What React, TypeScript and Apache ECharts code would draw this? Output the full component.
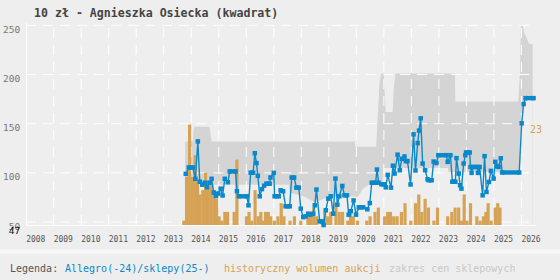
import React, { useEffect, useRef } from 'react';
import * as echarts from 'echarts';

const chartTitle = '10 zł - Agnieszka Osiecka (kwadrat)';
const legendLabel = 'Legenda:';
const legendAllegro = 'Allegro(-24)/sklepy(25-)';
const legendVolume = 'historyczny wolumen aukcji';
const legendShops = 'zakres cen sklepowych';

const yTicks = [50, 100, 150, 200, 250];
const yGrid = [50, 100, 150, 200, 250];
const years = [2008, 2009, 2010, 2011, 2012, 2013, 2014, 2015, 2016, 2017, 2018, 2019, 2020, 2021, 2022, 2023, 2024, 2025, 2026];
const volumeMarker = 23;

// blue line: Allegro / shop prices
const allegro: [number, number][] = [
  [2013.80, 99], [2013.91, 105.5], [2014.06, 105.5], [2014.15, 94], [2014.24, 132], [2014.31, 91],
  [2014.40, 88], [2014.49, 90], [2014.57, 85.5], [2014.66, 90], [2014.74, 94], [2014.82, 80],
  [2014.90, 76.5], [2014.98, 79], [2015.07, 84], [2015.14, 77], [2015.22, 94], [2015.33, 90.5],
  [2015.40, 101.5], [2015.61, 101.5], [2015.66, 81.3], [2015.73, 76.2], [2016.02, 76.2], [2016.08, 67],
  [2016.16, 100.2], [2016.25, 100.2], [2016.31, 120], [2016.37, 110], [2016.42, 97], [2016.49, 76.2],
  [2016.57, 83.5], [2016.65, 87], [2016.73, 89], [2016.85, 89], [2016.88, 95.3], [2017.00, 100],
  [2017.03, 76.2], [2017.18, 76.2], [2017.25, 82.3], [2017.34, 81.3], [2017.43, 66], [2017.58, 66],
  [2017.65, 95.3], [2017.74, 95.3], [2017.82, 85], [2017.91, 85], [2017.98, 63.6], [2018.07, 55],
  [2018.16, 55.8], [2018.25, 58.5], [2018.33, 57.5], [2018.43, 58.5], [2018.49, 67], [2018.55, 83],
  [2018.67, 50.7], [2018.76, 50.7], [2018.81, 47], [2018.89, 62], [2018.98, 73.8], [2019.07, 76.2],
  [2019.16, 58.5], [2019.24, 94.2], [2019.31, 67.7], [2019.38, 76.2], [2019.49, 86.7], [2019.57, 77.2],
  [2019.66, 77.2], [2019.72, 57.5], [2019.80, 61], [2019.90, 72], [2019.99, 57.5], [2020.09, 65],
  [2020.25, 65], [2020.40, 63], [2020.49, 69.3], [2020.56, 90], [2020.70, 90], [2020.75, 103.4],
  [2020.81, 90], [2020.91, 88.4], [2021.02, 88.4], [2021.07, 85.3], [2021.14, 98], [2021.26, 85],
  [2021.33, 107.3], [2021.39, 99.3], [2021.50, 118.5], [2021.58, 102.7], [2021.65, 114.3], [2021.75, 116.7],
  [2021.80, 112], [2021.86, 112], [2021.97, 88.2], [2022.08, 139.2], [2022.15, 102.5], [2022.23, 130.3],
  [2022.28, 143], [2022.34, 155.5], [2022.41, 109.5], [2022.50, 102.7], [2022.59, 93.5], [2022.63, 92.5],
  [2022.74, 92.5], [2022.81, 111.5], [2022.91, 110], [2022.98, 118], [2023.27, 118], [2023.32, 111.2],
  [2023.42, 118], [2023.49, 91], [2023.60, 91], [2023.64, 115], [2023.72, 99.3], [2023.77, 87.4],
  [2023.82, 84], [2023.90, 109.5], [2023.96, 118], [2023.99, 120.8], [2024.12, 120.8], [2024.15, 106],
  [2024.19, 100], [2024.24, 106], [2024.40, 106], [2024.42, 100], [2024.48, 106], [2024.59, 77.2],
  [2024.66, 117], [2024.73, 80.6], [2024.82, 90.8], [2024.89, 102], [2024.99, 94.2], [2025.05, 111.2],
  [2025.12, 106.8], [2025.17, 106], [2025.25, 114.8], [2025.30, 100.4], [2025.92, 100.4], [2026.01, 150.4],
  [2026.08, 170], [2026.15, 176], [2026.44, 176],
];

// orange bars: auction volume
const volume: [number, number][] = [
  [2013.73, 1], [2013.83, 11], [2013.94, 23], [2014.04, 11], [2014.14, 16], [2014.23, 10], [2014.32, 7],
  [2014.42, 8], [2014.52, 12], [2014.62, 9], [2014.72, 10], [2014.82, 8], [2014.92, 6], [2015.01, 2],
  [2015.11, 1], [2015.22, 3], [2015.32, 3], [2015.56, 3], [2015.66, 15], [2016.01, 2], [2016.10, 3],
  [2016.20, 1], [2016.32, 8], [2016.43, 2], [2016.53, 3], [2016.61, 1], [2016.70, 3], [2016.80, 3],
  [2016.89, 2], [2017.02, 1], [2017.15, 2], [2017.27, 5], [2017.37, 2], [2017.59, 1], [2017.75, 2],
  [2017.98, 1], [2018.24, 2], [2018.33, 3], [2018.45, 4], [2018.56, 2], [2018.76, 1], [2018.85, 3],
  [2018.96, 2], [2019.07, 3], [2019.26, 5], [2019.38, 3], [2019.50, 3], [2019.69, 1], [2019.79, 3],
  [2019.89, 2], [2020.04, 1], [2020.38, 1], [2020.50, 2], [2020.68, 3], [2020.80, 4], [2021.03, 2],
  [2021.14, 3], [2021.24, 3], [2021.36, 2], [2021.48, 2], [2021.64, 3], [2021.77, 5], [2021.98, 1],
  [2022.15, 5], [2022.27, 7], [2022.38, 3], [2022.50, 6], [2022.62, 4], [2022.82, 1], [2022.95, 4],
  [2023.32, 2], [2023.47, 3], [2023.59, 4], [2023.72, 4], [2023.82, 1], [2023.92, 7], [2024.02, 1],
  [2024.15, 5], [2024.38, 2], [2024.50, 1], [2024.62, 2], [2024.71, 3], [2024.79, 5], [2024.90, 1],
  [2025.05, 4], [2025.14, 5], [2025.22, 4],
];

// grey band: shop price range
const shopHigh: [number, number][] = [
  [2013.78, 132], [2014.06, 132], [2014.08, 143], [2014.11, 147], [2014.66, 147], [2014.70, 140],
  [2014.74, 132], [2019.94, 132], [2019.96, 126.5], [2020.72, 126.5], [2020.74, 137], [2020.84, 191],
  [2020.90, 201], [2021.00, 201], [2021.03, 183], [2021.07, 162], [2021.32, 162], [2021.36, 185],
  [2021.42, 201], [2023.58, 201], [2023.60, 172.5], [2025.88, 172.5], [2025.91, 184], [2025.95, 205],
  [2025.98, 251.5], [2026.05, 249], [2026.11, 242], [2026.19, 237], [2026.28, 231], [2026.41, 231],
];
const shopLow: [number, number][] = [
  [2013.78, 92], [2014.74, 88], [2017.55, 88], [2017.58, 80], [2018.10, 76], [2018.50, 70],
  [2019.00, 76], [2019.95, 76], [2020.05, 75.5], [2020.25, 84], [2020.50, 89], [2020.96, 89],
  [2020.99, 105], [2023.32, 105], [2023.35, 101], [2025.92, 101], [2026.01, 150], [2026.08, 170],
  [2026.15, 176], [2026.41, 176],
];

const BG = '#eeeeee';
const BLUE = '#0a88c9';
const ORANGE = '#d6a356';
const GRAY = '#d4d4d4';
const MONO = '"DejaVu Sans Mono", monospace';
const X_MIN = 2008;
const X_MAX = 2026.53;
const Y_MIN = 47;
const Y_MAX = 252;

export default function App() {
  const ref = useRef<HTMLDivElement>(null);
  useEffect(() => {
    if (!ref.current) return;
    const chart = echarts.init(ref.current, undefined, { renderer: 'svg' });

    const flats: [number, number, number][] = [];
    for (let i = 0; i < allegro.length - 1; i++) {
      if (allegro[i][1] === allegro[i + 1][1]) flats.push([allegro[i][0], allegro[i + 1][0], allegro[i][1]]);
    }
    const gridItems: [number, number][] = [
      ...yGrid.map((v) => [0, v] as [number, number]),
      ...years.slice(1).map((v) => [1, v] as [number, number]),
    ];

    const option: any = {
      animation: false,
      backgroundColor: BG,
      grid: { left: 26, right: 24, top: 23.4, bottom: 55, containLabel: false },
      xAxis: [{
        type: 'value', min: X_MIN, max: X_MAX, interval: 1,
        axisLine: { show: true, lineStyle: { color: '#ffffff', width: 1 } },
        axisTick: { show: false },
        splitLine: { show: false },
        axisLabel: {
          showMaxLabel: false, align: 'left', margin: 10,
          fontFamily: MONO, fontSize: 8, color: '#555',
          formatter: (v: number) => String(Math.round(v)),
        },
      }],
      yAxis: [
        {
          type: 'value', min: Y_MIN, max: Y_MAX,
          axisLine: { show: true, lineStyle: { color: '#ffffff', width: 1 } },
          axisTick: { show: false },
          splitLine: { show: false },
          axisLabel: {
            customValues: yTicks, margin: 6, verticalAlign: 'top', lineHeight: 8,
            fontFamily: MONO, fontSize: 9.5, color: '#777',
          },
        },
        {
          type: 'value', min: 0, max: 46.2, interval: volumeMarker, position: 'right', z: 20,
          axisLine: { show: false }, axisTick: { show: false }, splitLine: { show: false },
          axisLabel: {
            margin: -6, verticalAlign: 'top', lineHeight: 9, fontFamily: MONO, fontSize: 10, color: ORANGE,
            formatter: (v: number) => (v === volumeMarker ? String(v) : ''),
          },
        },
      ],
      series: [
        {
          type: 'line', data: shopHigh, symbol: 'none', silent: true, z: 1,
          lineStyle: { width: 0, opacity: 0 }, areaStyle: { color: GRAY, opacity: 1 },
        },
        {
          type: 'line', data: shopLow, symbol: 'none', silent: true, z: 2,
          lineStyle: { width: 0, opacity: 0 }, areaStyle: { color: BG, opacity: 1 },
        },
        {
          type: 'custom', data: gridItems, z: 3, silent: true, clip: false,
          encode: { x: 1, y: 1 },
          renderItem: (params: any, api: any) => {
            const kind = api.value(0);
            const v = api.value(1);
            let a, b;
            if (kind === 0) {
              a = api.coord([X_MIN, v]);
              b = api.coord([X_MAX, v]);
            } else {
              a = api.coord([v, Y_MIN]);
              b = api.coord([v, Y_MAX]);
            }
            return {
              type: 'line',
              shape: { x1: a[0], y1: a[1], x2: b[0], y2: b[1] },
              style: { stroke: '#ffffff', lineWidth: 1, lineDash: [10, 7] },
            };
          },
        },
        {
          // minimum value label on the y axis
          type: 'custom', data: [[X_MIN, Y_MIN]], z: 30, silent: true, clip: false,
          renderItem: (params: any, api: any) => {
            const p = api.coord([api.value(0), api.value(1)]);
            return {
              type: 'text', x: p[0] - 6, y: p[1] + 5,
              style: { text: String(api.value(1)), fontFamily: MONO, fontSize: 9.5, fill: '#111', align: 'right', verticalAlign: 'middle' },
            };
          },
        },
        {
          type: 'custom', data: volume, yAxisIndex: 1, z: 4, silent: true,
          encode: { x: 0, y: 1 },
          renderItem: (params: any, api: any) => {
            const top = api.coord([api.value(0), api.value(1)]);
            const base = api.coord([api.value(0), 0]);
            return {
              type: 'rect',
              shape: { x: top[0] - 1.6, y: top[1], width: 3.2, height: base[1] - top[1] },
              style: { fill: ORANGE },
            };
          },
        },
        {
          type: 'custom', data: flats, z: 6, silent: true,
          encode: { x: [0, 1], y: 2 },
          renderItem: (params: any, api: any) => {
            const p1 = api.coord([api.value(0), api.value(2)]);
            const p2 = api.coord([api.value(1), api.value(2)]);
            return {
              type: 'rect',
              shape: { x: p1[0], y: p1[1] - 2.2, width: p2[0] - p1[0], height: 4.4 },
              style: { fill: BLUE },
            };
          },
        },
        {
          type: 'line', data: allegro, z: 7, silent: true,
          symbol: 'rect', symbolSize: 4.5, showAllSymbol: true,
          lineStyle: { color: BLUE, width: 1.4 }, itemStyle: { color: BLUE },
        },
      ],
      graphic: [
        { type: 'rect', shape: { x: 0, y: 249.5, width: 560, height: 4 }, style: { fill: '#f8f8f8' }, silent: true },
        {
          type: 'text', x: 34, y: 12.7,
          style: { text: chartTitle, fontFamily: MONO, fontSize: 11.6, fontWeight: 'bold', fill: '#444', verticalAlign: 'middle' },
        },
        { type: 'text', x: 10, y: 268, style: { text: legendLabel, fontFamily: MONO, fontSize: 10, fill: '#555', verticalAlign: 'middle' } },
        { type: 'text', x: 65, y: 268, style: { text: legendAllegro, fontFamily: MONO, fontSize: 10, fill: BLUE, verticalAlign: 'middle' } },
        { type: 'text', x: 224, y: 268, style: { text: legendVolume, fontFamily: MONO, fontSize: 10, fill: ORANGE, verticalAlign: 'middle' } },
        { type: 'text', x: 389, y: 268, style: { text: legendShops, fontFamily: MONO, fontSize: 10, fill: '#c8c8c8', verticalAlign: 'middle' } },
      ],
    };
    chart.setOption(option);
    return () => chart.dispose();
  }, []);
  return <div ref={ref} style={{ position: 'fixed', left: 0, top: 0, width: 560, height: 280 }} />;
}
